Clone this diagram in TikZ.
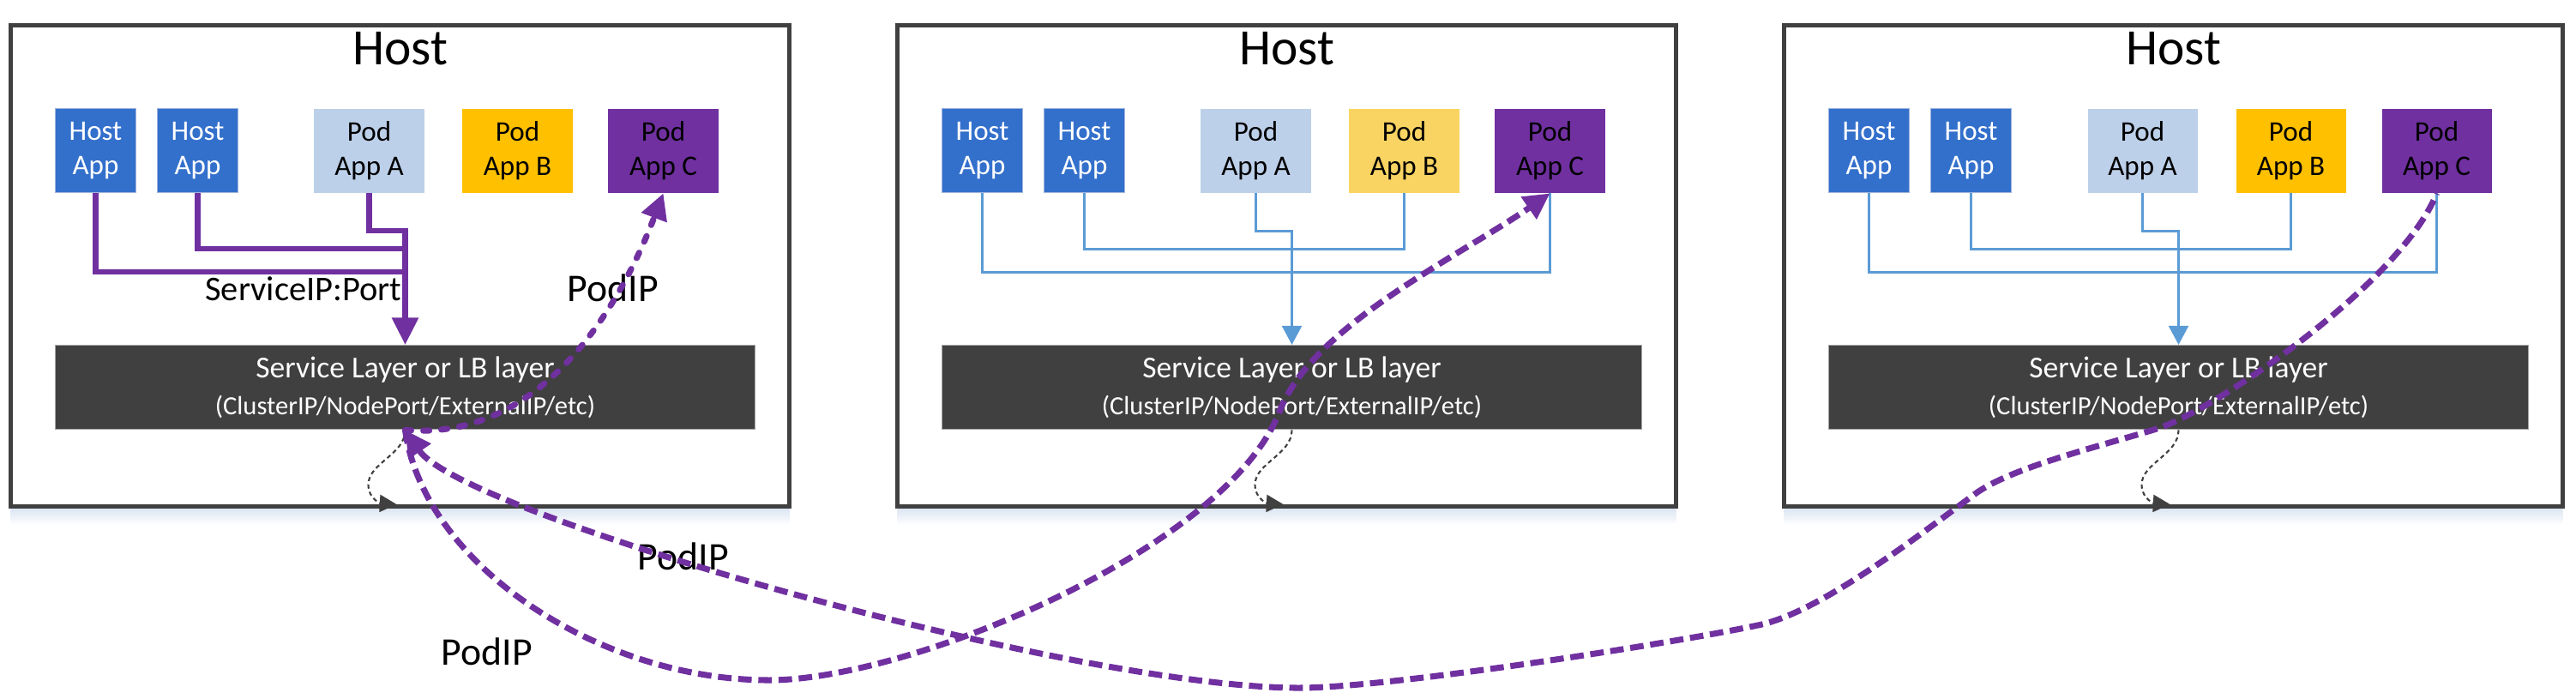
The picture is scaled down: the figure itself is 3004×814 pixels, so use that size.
\documentclass[tikz,border=0pt]{standalone}
\usepackage{fontspec}
\setmainfont{Carlito}
\usetikzlibrary{arrows.meta}
\tikzset{>={Triangle[width=8.6pt,length=8.6pt]}}

\definecolor{hostgray}{HTML}{404040}
\definecolor{shadowblue}{HTML}{DCE6F2}
\definecolor{appblue}{HTML}{3370CC}
\definecolor{appedge}{HTML}{9FB4DC}
\definecolor{podlight}{HTML}{BDD0EA}
\definecolor{podgold}{HTML}{FFC000}
\definecolor{podpale}{HTML}{F9D462}
\definecolor{podpurple}{HTML}{7030A0}
\definecolor{svcgray}{HTML}{404040}
\definecolor{svcedge}{HTML}{A6A6A6}
\definecolor{lbblue}{HTML}{5B9BD5}

\begin{document}
\begin{tikzpicture}[
    x=0.01cm, y=-0.01cm,
    hostbox/.style={draw=hostgray, line width=1.42pt, fill=white,
        minimum width=9.08cm, minimum height=5.61cm, inner sep=0},
    hosttitle/.style={font=\fontsize{16.9}{20}\selectfont, inner sep=0},
    hostapp/.style={fill=appblue, draw=appedge, line width=0.4pt, text=white,
        minimum width=0.94cm, minimum height=0.98cm, inner sep=0, align=center,
        font=\fontsize{9.4}{11.2}\selectfont},
    pod/.style={minimum width=1.28cm, minimum height=0.98cm, inner sep=0, align=center,
        font=\fontsize{9.4}{11.2}\selectfont},
    svclayer/.style={fill=svcgray, draw=svcedge, line width=0.4pt, text=white,
        minimum width=8.16cm, minimum height=0.98cm, inner sep=0, align=center,
        font=\fontsize{10.1}{10.5}\selectfont},
    svcpath/.style={draw=podpurple, line width=1.85pt, >={Triangle[width=8.5pt,length=9pt]}},
    lbpath/.style={draw=lbblue, line width=0.85pt, >={Triangle[width=6.5pt,length=6.3pt]}},
    hop/.style={draw=hostgray, line width=0.6pt, dash pattern=on 1.4pt off 1.1pt,
        >={Triangle[width=5.7pt,length=5.6pt]}},
    podpath/.style={draw=podpurple, line width=2pt, dash pattern=on 4.5pt off 2.2pt},
    label/.style={inner sep=0}
]
\useasboundingbox (0,0) rectangle (3004,814);

% host 1
\shade[top color=shadowblue, bottom color=white] (12.5,593) rectangle (920.5,612);
\node[hostbox] (h1) at (466.5,310) {};
\node[hosttitle, anchor=base] (h1title) at (466.5,75.5) {Host};
\node[hostapp] (h1app1) at (111.5,175.7) {Host\\App};
\node[hostapp] (h1app2) at (230.5,175.7) {Host\\App};
\node[pod, fill=podlight] (h1poda) at (430.5,175.7) {Pod\\App A};
\node[pod, fill=podgold] (h1podb) at (603.5,175.7) {Pod\\App B};
\node[pod, fill=podpurple] (h1podc) at (773.5,175.7) {Pod\\App C};
\node[svclayer] (h1svc) at (472.5,451.7) {Service Layer or LB layer\\[1.5pt]{\fontsize{8.7}{10}\selectfont (ClusterIP/NodePort/ExternalIP/etc)}};

\coordinate (h1a) at (472.5,269);
\coordinate (h1b) at (472.5,290);
\coordinate (h1c) at (472.5,317);
\draw[svcpath] (h1app1.south) |- (h1c);
\draw[svcpath] (h1app2.south) |- (h1b);
\draw[svcpath,->] (h1poda.south) |- (h1a) -- (h1svc.north);
\node[label, anchor=base east, font=\fontsize{11.5}{13}\selectfont] (h1svcip) at (469,350) {ServiceIP:Port};

% host 2
\shade[top color=shadowblue, bottom color=white] (1046.5,593) rectangle (1954.5,612);
\node[hostbox] (h2) at (1500.5,310) {};
\node[hosttitle, anchor=base] (h2title) at (1500.5,75.5) {Host};
\node[hostapp] (h2app1) at (1145.5,175.7) {Host\\App};
\node[hostapp] (h2app2) at (1264.5,175.7) {Host\\App};
\node[pod, fill=podlight] (h2poda) at (1464.5,175.7) {Pod\\App A};
\node[pod, fill=podpale] (h2podb) at (1637.5,175.7) {Pod\\App B};
\node[pod, fill=podpurple] (h2podc) at (1807.5,175.7) {Pod\\App C};
\node[svclayer] (h2svc) at (1506.5,451.7) {Service Layer or LB layer\\[1.5pt]{\fontsize{8.7}{10}\selectfont (ClusterIP/NodePort/ExternalIP/etc)}};

\coordinate (h2a) at (1506.5,269);
\coordinate (h2b) at (1506.5,290);
\coordinate (h2c) at (1506.5,317);
\draw[lbpath] (h2app1.south) |- (h2c) -| (h2podc.south);
\draw[lbpath] (h2app2.south) |- (h2b) -| (h2podb.south);
\draw[lbpath,->] (h2poda.south) |- (h2a) -- (h2svc.north);

% host 3
\shade[top color=shadowblue, bottom color=white] (2080.5,593) rectangle (2988.5,612);
\node[hostbox] (h3) at (2534.5,310) {};
\node[hosttitle, anchor=base] (h3title) at (2534.5,75.5) {Host};
\node[hostapp] (h3app1) at (2179.5,175.7) {Host\\App};
\node[hostapp] (h3app2) at (2298.5,175.7) {Host\\App};
\node[pod, fill=podlight] (h3poda) at (2498.5,175.7) {Pod\\App A};
\node[pod, fill=podgold] (h3podb) at (2671.5,175.7) {Pod\\App B};
\node[pod, fill=podpurple] (h3podc) at (2841.5,175.7) {Pod\\App C};
\node[svclayer] (h3svc) at (2540.5,451.7) {Service Layer or LB layer\\[1.5pt]{\fontsize{8.7}{10}\selectfont (ClusterIP/NodePort/ExternalIP/etc)}};

\coordinate (h3a) at (2540.5,269);
\coordinate (h3b) at (2540.5,290);
\coordinate (h3c) at (2540.5,317);
\draw[lbpath] (h3app1.south) |- (h3c) -| (h3podc.south);
\draw[lbpath] (h3app2.south) |- (h3b) -| (h3podb.south);
\draw[lbpath,->] (h3poda.south) |- (h3a) -- (h3svc.north);

% node port hops
\coordinate (h1out) at (462.5,588);
\coordinate (h2out) at (1496.5,588);
\coordinate (h3out) at (2530.5,588);
\draw[hop,->] (h1svc.south) .. controls (472.5,530) and (429.5,540) .. (429.5,565) .. controls (429.5,582) and (444.5,587) .. (h1out);
\draw[hop,->] (h2svc.south) .. controls (1506.5,530) and (1463.5,540) .. (1463.5,565) .. controls (1463.5,582) and (1478.5,587) .. (h2out);
\draw[hop,->] (h3svc.south) .. controls (2540.5,530) and (2497.5,540) .. (2497.5,565) .. controls (2497.5,582) and (2512.5,587) .. (h3out);

% pod ip labels
\node[label, anchor=base west, font=\fontsize{13}{15}\selectfont] (pip1) at (661,351) {PodIP};
\node[label, anchor=base west, font=\fontsize{13}{15}\selectfont] (pip2) at (743,664) {PodIP};
\node[label, anchor=base west, font=\fontsize{13}{15}\selectfont] (pip3) at (514,775.7) {PodIP};

% pod ip paths
\draw[podpath,->,line cap=round,dash pattern=on 2pt off 4pt] (h1svc.south) .. controls (640,515) and (730,340) .. (h1podc.south);
\draw[podpath,->] (h1svc.south) .. controls (495,660) and (700,793) .. (897,793)
    .. controls (1060,793) and (1430,640) .. (1492,480)
    .. controls (1530,380) and (1700,300) .. (h2podc.south);
\draw[podpath,<-] (h1svc.south) .. controls (540,600) and (1250,802) .. (1515,802)
    .. controls (1620,802) and (1950,750) .. (2050,729)
    .. controls (2120,715) and (2230,630) .. (2303,576)
    .. controls (2345,545) and (2450,520) .. (2515,500)
    .. controls (2580,480) and (2800,330) .. (h3podc.south);

\end{tikzpicture}
\end{document}
